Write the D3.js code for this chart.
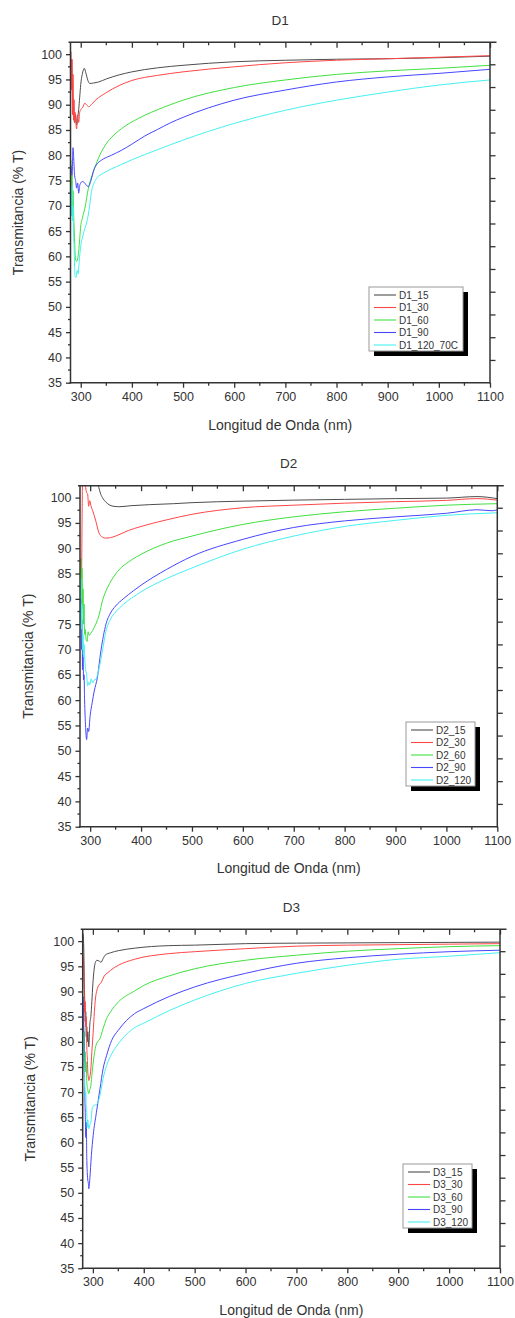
<!DOCTYPE html>
<html>
<head>
<meta charset="utf-8">
<script src="https://cdn.jsdelivr.net/npm/d3@7"></script>
<style>
  body { margin: 0; background: #fff; }
  svg { display: block; }
  text { font-family: "Liberation Sans", Arial, sans-serif; fill: #333; }
</style>
</head>
<body>
<svg id="chart" width="515" height="1318"></svg>
<script>
// Axis ticks
const xTicks = [300, 400, 500, 600, 700, 800, 900, 1000, 1100];
const yTicks = [35, 40, 45, 50, 55, 60, 65, 70, 75, 80, 85, 90, 95, 100];
const rightTicks = [98, 93.5, 89, 84.5, 80, 75.5, 71, 66.5, 62, 57.5, 53, 48.5, 44, 39.5];
const seriesColors = ["#4d4d4d", "#ff4646", "#40e040", "#4646ff", "#46f0f0"];

// Transmittance spectra: [wavelength nm, %T]
const d1_15 = [[282,99],[284,92],[286,88],[288,86.5],[290,88],[292,86],[294,87.5],[296,89],[298,91.5],[300,94],[303,96],[307,97.2],[310,96.3],[314,94.8],[318,94.2],[325,94.3],[335,94.5],[350,95.1],[375,95.9],[400,96.5],[450,97.3],[500,97.8],[600,98.5],[700,98.8],[800,99.0],[900,99.1],[1000,99.3],[1100,99.6]];
const d1_30 = [[281,100.5],[282,93],[283,99],[284,88],[285,96],[286,87],[287,91],[288,86.5],[289,88.5],[290,87],[292,85.2],[294,88],[296,86.5],[298,88.5],[300,89],[304,89.5],[308,90.3],[312,89.9],[316,89.6],[322,90.2],[330,91],[350,92.4],[375,93.8],[400,94.8],[450,95.8],[500,96.5],[600,97.5],[700,98.3],[800,98.8],[900,99.1],[1000,99.4],[1100,99.7]];
const d1_60 = [[281,79],[282,70],[283,76],[284,68],[285,73],[286,69],[287,66],[288,63],[290,59.3],[292,59],[294,59.5],[296,61],[298,63.5],[300,66],[303,67.5],[308,69.5],[315,73.5],[322,76],[328,77.7],[335,79.5],[348,82],[365,84],[380,85.3],[413,87.3],[465,89.6],[500,90.9],[600,93.4],[700,94.9],[800,96.0],[900,96.7],[1000,97.2],[1100,97.8]];
const d1_90 = [[281,78],[283,76],[285,81.5],[286,80],[288,76],[290,75],[292,73.5],[294,74.5],[296,72.5],[298,74],[300,74.5],[303,74.8],[307,74.6],[310,74.2],[315,73.8],[320,75],[326,77.2],[332,78.3],[340,79],[360,80],[380,81],[400,82.2],[425,83.8],[450,85.1],[475,86.4],[500,87.5],[600,90.9],[700,92.9],[800,94.5],[900,95.5],[1000,96.2],[1100,97.0]];
const d1_120 = [[281,72],[282,68],[283,74],[284,67],[285,70],[286,64],[287,62],[288,58],[289,56],[291,55.8],[293,57.2],[295,56.5],[297,59],[300,62],[304,64],[308,65.5],[312,66.8],[316,69],[321,72.8],[326,74.5],[331,75.4],[345,76.5],[360,77.3],[380,78.2],[400,79.1],[450,81.1],[500,83],[600,86.3],[700,88.9],[800,90.9],[900,92.5],[1000,93.9],[1100,94.9]];

const d2_15 = [[282,115],[300,110],[312,104],[317,102],[320,100.9],[324,100],[330,99.2],[337,98.6],[345,98.3],[357,98.2],[380,98.4],[416,98.6],[464,98.8],[500,99.0],[600,99.3],[700,99.5],[800,99.65],[900,99.8],[1000,99.9],[1060,100.2],[1100,99.8]];
const d2_30 = [[282,88],[283,84],[284,95],[285,103],[288,104],[291,102],[293,101],[295,100.7],[297,98.3],[299,99.4],[302,98.2],[305,97.4],[311,95.4],[317,93.1],[324,92.2],[330,92.0],[340,92.1],[350,92.4],[375,93.5],[400,94.3],[450,95.6],[500,96.7],[600,98.0],[700,98.5],[800,98.9],[900,99.2],[1000,99.45],[1060,99.8],[1100,99.5]];
const d2_60 = [[282,88],[283,79],[284,86],[285,78],[286,82],[287,75],[288,79],[289,73],[290,74],[292,72],[294,71.6],[296,73.5],[298,72.8],[301,73.2],[305,73.8],[311,75.0],[318,77],[324,79.6],[334,82.2],[350,84.9],[383,87.8],[400,88.8],[450,91],[500,92.4],[600,94.7],[700,96.2],[800,97.2],[900,97.9],[1000,98.5],[1100,98.8]];
const d2_90 = [[282,80],[283,70],[284,76],[285,66],[286,69],[287,64],[288,65],[289,60],[290,57],[292,53],[293,52.2],[295,54.5],[297,53.8],[300,57],[304,59.5],[308,61.8],[314,64.4],[321,69.7],[331,75.0],[340,77.2],[350,78.6],[365,80.0],[385,81.6],[400,82.7],[450,85.8],[500,88.4],[600,91.75],[700,94.1],[800,95.4],[900,96.2],[1000,96.9],[1060,97.6],[1090,97.4],[1100,97.6]];
const d2_120 = [[282,84],[283,74],[284,79],[285,70],[286,73],[287,68.5],[288,71],[289,69],[291,66],[293,65.1],[295,62.8],[297,63.6],[299,63],[302,64.2],[305,63.4],[308,64],[311,64.1],[315,65.2],[318,66.5],[324,69.7],[331,73.6],[340,76.0],[350,77.4],[365,78.9],[385,80.4],[400,81.4],[450,84],[500,86.1],[600,89.8],[700,92.4],[800,94.3],[900,95.5],[1000,96.5],[1100,97.0]];

const d3_15 = [[281,101.5],[282,99],[283,93],[284,88],[285,84],[286,86],[287,81],[288,83],[289,80],[290,82],[292,79],[294,83.5],[296,85],[298,88],[300,91.5],[302,94],[305,95.8],[308,96.2],[313,96.0],[316,95.8],[320,96.5],[324,97.2],[335,97.7],[350,98.1],[382,98.6],[448,99.1],[500,99.2],[600,99.5],[700,99.6],[800,99.65],[900,99.7],[1000,99.75],[1100,99.8]];
const d3_30 = [[281,97],[282,95],[283,90],[284,86],[285,88],[286,83],[287,85],[288,79],[289,77],[290,74],[291,73],[292,72.3],[294,73],[296,74.6],[298,78],[300.6,81.9],[303,86],[305,88.5],[308,90.3],[310,90.9],[317,91.9],[322,93],[330,93.8],[350,95.2],[382,96.4],[448,97.5],[500,97.9],[600,98.5],[700,99.0],[800,99.2],[900,99.3],[1000,99.4],[1100,99.5]];
const d3_60 = [[281,84],[282,80],[283,82],[284,76],[285,78],[286,74],[287,76],[288,72],[290,70.5],[292,69.7],[294,70.5],[296,71.3],[298.6,74],[302.5,77.3],[307,79.6],[313.8,80.6],[320,82.6],[327,84.6],[335,86],[350,87.9],[382,90.1],[400,91.2],[450,93.1],[500,94.5],[600,96.2],[700,97.2],[800,98.0],[900,98.5],[1000,98.9],[1100,99.1]];
const d3_90 = [[281,89],[282,84],[283,76],[284,70],[285,66],[286,61],[287,64],[288,57],[289,54],[290,52.5],[291,52],[292,50.8],[294,52.8],[297,57.4],[300.6,61.4],[307,66],[314,70.7],[320,74.6],[327,77.3],[337,80.3],[350,82.3],[382,85.6],[400,86.6],[450,89.0],[500,90.9],[600,93.6],[700,95.6],[800,96.7],[900,97.4],[1000,97.9],[1100,98.2]];
const d3_120 = [[281,82],[282,78],[283,74],[284,71],[285,69],[286,70],[287,67],[288,66],[289,63],[290,64.5],[292,62.7],[294,63.5],[296,64],[298.6,66.7],[302.5,67.4],[307,67.5],[314,69.4],[320,72.7],[327,75.3],[337,77.6],[350,79.6],[382,82.8],[400,83.7],[450,86.2],[500,88.3],[600,91.6],[700,93.6],[800,95.2],[900,96.4],[1000,97.0],[1100,97.7]];

const d1Labels = ["D1_15", "D1_30", "D1_60", "D1_90", "D1_120_70C"];
const d2Labels = ["D2_15", "D2_30", "D2_60", "D2_90", "D2_120"];
const d3Labels = ["D3_15", "D3_30", "D3_60", "D3_90", "D3_120"];
const panelTitles = ["D1", "D2", "D3"];

const xTitle = "Longitud de Onda (nm)";
const yTitle = "Transmitancia (% T)";

// Panel frames and legend placement
const panels = [
  { title: panelTitles[0], labels: d1Labels, series: [d1_15, d1_30, d1_60, d1_90, d1_120],
    left: 70.5, right: 490, top: 42.3, bottom: 382.7, titleY: 25, xTitleY: 430, yTitleX: 18,
    legend: { x: 369, y: 287, w: 94, h: 64 } },
  { title: panelTitles[1], labels: d2Labels, series: [d2_15, d2_30, d2_60, d2_90, d2_120],
    left: 80, right: 497.3, top: 485.7, bottom: 826.7, titleY: 468, xTitleY: 873, yTitleX: 27.5,
    legend: { x: 406, y: 722, w: 69, h: 64 } },
  { title: panelTitles[2], labels: d3Labels, series: [d3_15, d3_30, d3_60, d3_90, d3_120],
    left: 82.7, right: 500, top: 929.3, bottom: 1268.3, titleY: 911.5, xTitleY: 1315, yTitleX: 30,
    legend: { x: 403, y: 1164, w: 69, h: 64 } }
];

const svg = d3.select("#chart");
const axisColor = "#333";
const plain = d3.format("d");

panels.forEach((p, pi) => {
  const x = d3.scaleLinear().domain([280, 1100]).range([p.left, p.right]);
  const y = d3.scaleLinear().domain([35, 102.35]).range([p.bottom, p.top]);
  const g = svg.append("g");

  // clip curves to the plot frame
  const clipId = "clip" + pi;
  g.append("clipPath").attr("id", clipId).append("rect")
    .attr("x", p.left).attr("y", p.top)
    .attr("width", p.right - p.left).attr("height", p.bottom - p.top);

  const line = d3.line().x(d => x(d[0])).y(d => y(d[1])).curve(d3.curveMonotoneX);
  const curves = g.append("g").attr("clip-path", `url(#${clipId})`);
  p.series.forEach((s, i) => {
    curves.append("path").datum(s)
      .attr("d", line)
      .attr("fill", "none")
      .attr("stroke", seriesColors[i])
      .attr("stroke-width", 1)
      .attr("stroke-linejoin", "round");
  });

  // bottom axis: outward ticks
  const bottomAxis = d3.axisBottom(x).tickValues(xTicks).tickFormat(plain)
    .tickSize(5).tickPadding(4).tickSizeOuter(0);
  const bx = g.append("g").attr("transform", `translate(0,${p.bottom})`).call(bottomAxis);
  const xMinor = d3.range(300, 1100, 100).map(v => v + 50);
  g.append("g").selectAll("line").data(xMinor).join("line")
    .attr("x1", d => x(d)).attr("x2", d => x(d))
    .attr("y1", p.bottom).attr("y2", p.bottom + 3)
    .attr("stroke", axisColor).attr("stroke-width", 1.3);

  // left axis: outward ticks
  const leftAxis = d3.axisLeft(y).tickValues(yTicks).tickFormat(plain)
    .tickSize(4.5).tickPadding(4).tickSizeOuter(0);
  const lx = g.append("g").attr("transform", `translate(${p.left},0)`).call(leftAxis);
  const yMinor = d3.range(37.5, 102.5, 5);
  g.append("g").selectAll("line").data(yMinor).join("line")
    .attr("x1", p.left).attr("x2", p.left - 2.5)
    .attr("y1", d => y(d)).attr("y2", d => y(d))
    .attr("stroke", axisColor).attr("stroke-width", 1.3);

  [bx, lx].forEach(a => {
    a.select(".domain").remove();
    a.selectAll(".tick line").attr("stroke", axisColor).attr("stroke-width", 1.3);
    a.selectAll(".tick text").attr("fill", "#333").style("font-size", "12.5px")
      .style("font-family", '"Liberation Sans", Arial, sans-serif');
  });

  // top axis: inward ticks, unlabeled
  const topAxis = d3.axisBottom(x).tickValues(xTicks).tickSize(5.5).tickFormat("").tickSizeOuter(0);
  const tx = g.append("g").attr("transform", `translate(0,${p.top})`).call(topAxis);
  tx.select(".domain").remove();
  tx.selectAll(".tick line").attr("stroke", axisColor).attr("stroke-width", 1.3);
  g.append("g").selectAll("line").data(xMinor).join("line")
    .attr("x1", d => x(d)).attr("x2", d => x(d))
    .attr("y1", p.top).attr("y2", p.top + 3)
    .attr("stroke", axisColor).attr("stroke-width", 1.3);

  // right axis: outward ticks on its own layer spacing
  const rightAxis = d3.axisRight(y).tickValues(rightTicks).tickSize(5.5).tickFormat("").tickSizeOuter(0);
  const rx = g.append("g").attr("transform", `translate(${p.right},0)`).call(rightAxis);
  rx.select(".domain").remove();
  rx.selectAll(".tick line").attr("stroke", axisColor).attr("stroke-width", 1.3);

  // frame
  const frame = g.append("g").attr("stroke", axisColor).attr("stroke-width", 1.5).attr("fill", "none");
  frame.append("line").attr("x1", p.left - 2).attr("x2", p.right + 6.5).attr("y1", p.top).attr("y2", p.top);
  frame.append("line").attr("x1", p.left - 1).attr("x2", p.right).attr("y1", p.bottom).attr("y2", p.bottom);
  frame.append("line").attr("x1", p.left).attr("x2", p.left).attr("y1", p.top).attr("y2", p.bottom + 0.7);
  frame.append("line").attr("x1", p.right).attr("x2", p.right).attr("y1", p.top).attr("y2", p.bottom + 0.7);

  // titles
  const cx = (p.left + p.right) / 2;
  g.append("text").attr("x", cx).attr("y", p.titleY).attr("text-anchor", "middle")
    .style("font-size", "13.5px").text(p.title);
  g.append("text").attr("x", cx).attr("y", p.xTitleY).attr("text-anchor", "middle")
    .style("font-size", "14px").text(xTitle);
  g.append("text")
    .attr("transform", `translate(${p.yTitleX + 5},${(p.top + p.bottom) / 2}) rotate(-90)`)
    .attr("text-anchor", "middle")
    .style("font-size", "14px").text(yTitle);

  // legend with drop shadow
  const L = p.legend;
  const lg = g.append("g");
  lg.append("rect").attr("x", L.x + 5).attr("y", L.y + 5).attr("width", L.w).attr("height", L.h).attr("fill", "#000");
  lg.append("rect").attr("x", L.x).attr("y", L.y).attr("width", L.w).attr("height", L.h)
    .attr("fill", "#fff").attr("stroke", "#999").attr("stroke-width", 1);
  const rowY = d3.scalePoint().domain(p.labels).range([L.y + 8, L.y + L.h - 6]);
  p.labels.forEach((name, i) => {
    lg.append("line").attr("x1", L.x + 5).attr("x2", L.x + 27)
      .attr("y1", rowY(name)).attr("y2", rowY(name))
      .attr("stroke", seriesColors[i]).attr("stroke-width", 1.1);
    lg.append("text").attr("x", L.x + 30).attr("y", rowY(name)).attr("dy", "0.35em")
      .style("font-size", "10px").text(name);
  });
});
</script>
</body>
</html>
